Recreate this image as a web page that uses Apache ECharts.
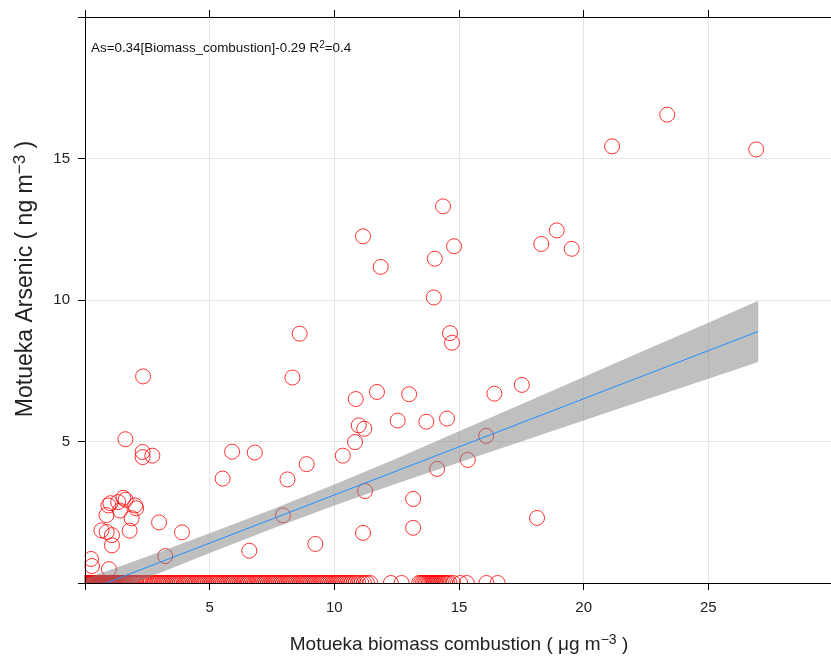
<!DOCTYPE html>
<html>
<head>
<meta charset="utf-8">
<script src="https://cdn.jsdelivr.net/npm/echarts@6/dist/echarts.min.js"></script>
<style>
  html, body { margin: 0; padding: 0; background: #ffffff; }
  #chart { width: 831px; height: 657px; }
</style>
</head>
<body>
<div id="chart"></div>
<script>
// Daily samples with measurable arsenic: biomass combustion (µg m-3) vs arsenic (ng m-3)
const biomassX = [
  23.35, 21.14, 26.92, 14.36, 11.15, 18.92, 18.30, 19.52, 14.80, 14.03,
  11.86, 13.99, 8.61, 14.64, 14.72, 2.33, 8.32, 17.52, 10.86, 11.71,
  13.00, 16.42, 12.54, 13.69, 14.52, 10.98, 11.20, 10.83, 16.09, 10.34,
  8.89, 6.81, 5.90, 8.12, 14.12, 15.35, 5.52, 2.97, 3.89, 3.22,
  6.59, 7.94, 9.24, 0.96, 0.24, 0.28, 1.62, 2.31, 2.31, 2.70,
  1.02, 0.94, 1.54, 1.63, 1.33, 2.01, 2.05, 1.40, 0.86, 1.87,
  0.66, 0.87, 1.08, 1.79, 1.08, 11.23, 13.16, 13.16, 18.13, 11.15
];
const arsenicY = [
  16.55, 15.43, 15.32, 13.31, 12.25, 12.46, 11.98, 11.81, 11.90, 11.46,
  11.17, 10.09, 8.81, 8.83, 8.49, 7.30, 7.26, 7.00, 6.50, 6.75,
  6.67, 6.69, 5.74, 5.70, 5.81, 5.57, 5.45, 4.98, 5.20, 4.50,
  4.20, 4.61, 4.64, 3.66, 4.03, 4.35, 3.69, 2.14, 1.79, 0.95,
  1.14, 2.39, 1.38, 0.49, 0.85, 0.60, 5.08, 4.63, 4.45, 4.50,
  2.82, 2.74, 3.01, 2.94, 2.86, 2.74, 2.64, 2.56, 2.40, 2.29,
  1.86, 1.80, 1.69, 1.85, 1.33, 3.25, 2.97, 1.95, 2.30, 1.77
];

// Samples where arsenic was reported as zero
const zeroBiomassX = [
  0.01, 0.03, 0.04, 0.06, 0.08, 0.09, 0.11, 0.13, 0.14, 0.16,
  0.18, 0.19, 0.21, 0.23, 0.24, 0.26, 0.28, 0.30, 0.31, 0.33,
  0.35, 0.36, 0.38, 0.40, 0.41, 0.43, 0.45, 0.47, 0.48, 0.50,
  0.52, 0.53, 0.55, 0.57, 0.59, 0.60, 0.62, 0.64, 0.65, 0.67,
  0.69, 0.71, 0.72, 0.74, 0.76, 0.78, 0.79, 0.81, 0.83, 0.85,
  0.86, 0.88, 0.90, 0.92, 0.94, 0.96, 0.98, 1.00, 1.02, 1.04,
  1.06, 1.08, 1.10, 1.13, 1.15, 1.18, 1.21, 1.24, 1.27, 1.30,
  1.33, 1.36, 1.40, 1.44, 1.48, 1.52, 1.57, 1.62, 1.68,
  1.74, 1.81, 1.88, 1.93, 2.01, 2.07, 2.15, 2.21, 2.28, 2.36,
  2.43, 2.49, 2.57, 2.63, 2.72, 2.78, 2.86, 2.93, 2.99, 3.08,
  3.14, 3.22, 3.29, 3.37, 3.44, 3.51, 3.59, 3.66, 3.74, 3.81,
  3.88, 3.97, 4.03, 4.11, 4.18, 4.26, 4.34, 4.41, 4.48, 4.56,
  4.63, 4.71, 4.79, 4.86, 4.93, 5.01, 5.08, 5.16, 5.24, 5.31,
  5.38, 5.46, 5.53, 5.61, 5.69, 5.76, 5.84, 5.91, 5.98, 6.06,
  6.13, 6.21, 6.29, 6.36, 6.43, 6.52, 6.58, 6.66, 6.74, 6.81,
  6.89, 6.96, 7.04, 7.11, 7.19, 7.26, 7.34, 7.42, 7.49, 7.57,
  7.64, 7.71, 7.79, 7.87, 7.94, 8.02, 8.09, 8.17, 8.24, 8.32,
  8.39, 8.47, 8.55, 8.62, 8.69, 8.77, 8.85, 8.92, 9.00, 9.07,
  9.15, 9.22, 9.30, 9.38, 9.45, 9.53, 9.60, 9.68, 9.75, 9.83,
  9.91, 9.98, 10.06, 10.13, 10.21, 10.28, 10.36, 10.44, 10.52, 10.60,
  10.68, 10.77, 10.85, 10.96, 11.08, 11.19, 11.31, 11.44,
  12.27, 12.70, 13.40, 13.48, 13.55, 13.61, 13.67, 13.73, 13.79, 13.84,
  13.89, 13.94, 13.99, 14.04, 14.09, 14.15, 14.21, 14.28, 14.36, 14.44,
  14.53, 14.62, 14.76, 15.05, 15.31, 16.10, 16.55
];

// Linear fit As = 0.34 * biomass - 0.29 and its confidence band
const fitX = [0, 27];
const fitY = [-0.29, 8.89];
const bandX = [0, 1, 2.5, 5, 7.5, 10, 12.5, 15, 17.5, 20, 22.5, 25, 27];
const bandLower = [-0.74, -0.36, 0.18, 1.06, 1.92, 2.74, 3.52, 4.26, 5.00, 5.74, 6.48, 7.22, 7.81];
const bandUpper = [0.16, 0.46, 0.94, 1.76, 2.60, 3.48, 4.40, 5.36, 6.32, 7.28, 8.24, 9.20, 9.97];

const xTicks = [0, 5, 10, 15, 20, 25, 30];
const yTicks = [0, 5, 10, 15, 20];
const equationText = 'As=0.34[Biomass_combustion]-0.29 R{sup|2}=0.4';
const xTitle = 'Motueka biomass combustion ( μg m{sup|−3} )';
const yTitle = 'Motueka Arsenic ( ng m{sup|−3} )';

const FONT = "'Liberation Sans', Arial, sans-serif";

const points = [];
biomassX.forEach((x, i) => points.push([x, arsenicY[i]]));
zeroBiomassX.forEach(x => points.push([x, 0]));

const chart = echarts.init(document.getElementById('chart'), null, { renderer: 'canvas' });

const axisLine = { show: true, onZero: false, lineStyle: { color: '#000', width: 1 } };
const axisTick = { show: true, inside: false, length: 7, lineStyle: { color: '#000', width: 1 } };
const gridLine = { show: true, lineStyle: { color: '#e6e6e6', width: 1 } };
const hideEnds = ticks => v => (v === ticks[0] || v === ticks[ticks.length - 1]) ? '' : String(v);
const xRange = { min: xTicks[0], max: xTicks[xTicks.length - 1], interval: 5 };
const yRange = { min: yTicks[0], max: yTicks[yTicks.length - 1], interval: 5 };

chart.setOption({
  backgroundColor: '#ffffff',
  animation: false,
  // the panel runs slightly past the right edge of the canvas
  grid: { left: 85, top: 17, width: 748, height: 566, containLabel: false, outerBoundsMode: 'none' },
  xAxis: [
    {
      type: 'value', position: 'bottom', z: 10, ...xRange,
      axisLine, axisTick,
      axisLabel: { margin: 17, color: '#222', fontSize: 15, fontFamily: FONT, formatter: hideEnds(xTicks) },
      splitLine: { show: false },
      name: xTitle,
      nameLocation: 'middle', nameGap: 50,
      nameTextStyle: {
        color: '#222', fontSize: 19, fontFamily: FONT,
        rich: { sup: { fontSize: 14, fontFamily: FONT, color: '#222', verticalAlign: 'top', padding: [0, 0, 10, 0] } }
      }
    },
    {
      // top frame with outward ticks; also carries the vertical grid lines beneath the marks
      type: 'value', position: 'top', z: 0, ...xRange,
      axisLine, axisTick,
      axisLabel: { show: false },
      splitLine: gridLine
    }
  ],
  yAxis: [
    {
      type: 'value', position: 'left', z: 10, ...yRange,
      axisLine, axisTick,
      axisLabel: { margin: 15, color: '#222', fontSize: 15, fontFamily: FONT, formatter: hideEnds(yTicks) },
      splitLine: { show: false }
    },
    {
      // horizontal grid lines beneath the marks
      type: 'value', position: 'right', z: 0, ...yRange,
      axisLine: { show: false }, axisTick: { show: false }, axisLabel: { show: false },
      splitLine: gridLine
    }
  ],
  graphic: [
    // hide the parts of circles that fall outside the plotting region
    { type: 'rect', z: 5, silent: true, shape: { x: 60, y: 583.5, width: 800, height: 12 }, style: { fill: '#ffffff' } },
    { type: 'rect', z: 5, silent: true, shape: { x: 60, y: 0, width: 24.5, height: 600 }, style: { fill: '#ffffff' } },
    {
      type: 'text', z: 20, left: 91, top: 40, silent: true,
      style: {
        text: equationText, fill: '#111', fontSize: 13.4, fontFamily: FONT,
        rich: { sup: { fontSize: 10, fontFamily: FONT, fill: '#111', verticalAlign: 'top', padding: [0, 0, 6, 0] } }
      }
    },
    {
      type: 'text', z: 20, x: 26, y: 279, rotation: Math.PI / 2, silent: true,
      style: {
        text: yTitle, fill: '#222', fontSize: 23, fontFamily: FONT, align: 'center', verticalAlign: 'middle',
        rich: { sup: { fontSize: 17, fontFamily: FONT, fill: '#222', verticalAlign: 'top', padding: [0, 0, 12, 0] } }
      }
    }
  ],
  series: [
    {
      type: 'scatter', name: 'samples', z: 2,
      data: points,
      symbol: 'circle', symbolSize: 15,
      itemStyle: { color: 'rgba(0,0,0,0)', borderColor: '#ff0000', borderWidth: 1 },
      emphasis: { disabled: true }
    },
    {
      // confidence band of the fit, drawn as one polygon over the samples
      type: 'custom', name: 'band', z: 3, clip: true, silent: true,
      data: bandX.map((x, i) => [x, bandLower[i], bandUpper[i]]),
      encode: { x: 0, y: [1, 2] },
      renderItem: (params, api) => {
        if (params.dataIndex !== 0) return null;
        const upper = bandX.map((x, i) => api.coord([x, bandUpper[i]]));
        const lower = bandX.map((x, i) => api.coord([x, bandLower[i]])).reverse();
        return {
          type: 'polygon',
          shape: { points: upper.concat(lower) },
          style: { fill: 'rgba(128,128,128,0.5)' }
        };
      }
    },
    {
      type: 'line', name: 'fit', z: 4,
      data: fitX.map((x, i) => [x, fitY[i]]),
      symbol: 'none', lineStyle: { color: '#1f8fff', width: 1 }, clip: true, silent: true
    }
  ]
});
</script>
</body>
</html>
